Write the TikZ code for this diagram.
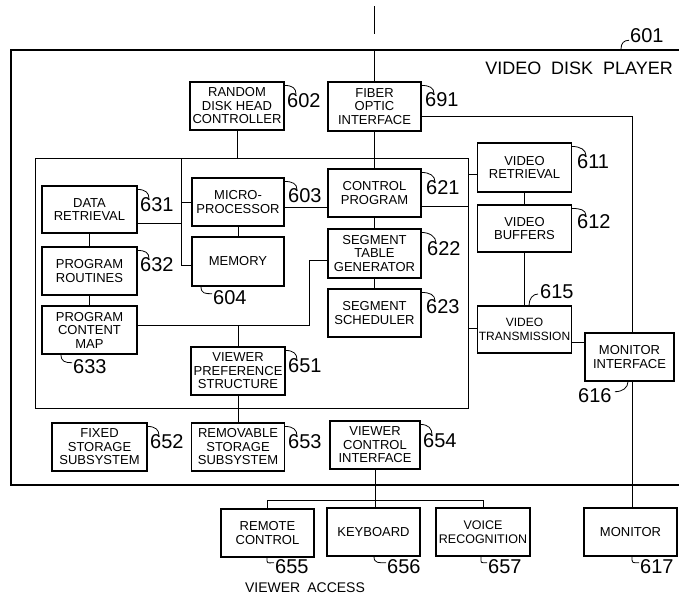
\documentclass[tikz,border=0pt]{standalone}
\usepackage{fontspec}
\setmainfont{Liberation Sans}
\usetikzlibrary{calc}
\newcommand\ldrTR[2]{\draw[ldr] ($(#1.north east)+(0,4)$) .. controls +(8,0) and +(0,-6) .. ($(#2.north west)+(9,1)$);}
\newcommand\ldrBL[3]{\draw[ldr] (#3,0 |- #1.south) .. controls +(0,7) and +(-7,0) .. ($(#2.north west)+(-1,3)$);}
\begin{document}
\begin{tikzpicture}[x=1pt,y=-1pt]
\tikzset{
 bx/.style={draw, line width=1.1pt, align=center, inner sep=0pt, font=\fontsize{13}{13.5}\selectfont},
 lbl/.style={inner sep=0pt, anchor=west, font=\fontsize{20}{20}\selectfont},
 ln/.style={line width=1pt},
 ldr/.style={line width=0.8pt},
 outer/.style={line width=2.2pt}
}
\useasboundingbox (0,0) rectangle (679,598);
% outer box 601
\draw[outer] (681,50) -- (11,50) -- (11,485) -- (681,485);
% boxes
\node[bx, minimum width=94pt, minimum height=48pt] (rdhc) at (237,106) {RANDOM\\DISK HEAD\\CONTROLLER};
\node[bx, minimum width=93pt, minimum height=49pt] (foi) at (374.5,106.5) {FIBER\\OPTIC\\INTERFACE};
\node[bx, minimum width=95pt, minimum height=47pt] (dr) at (89.5,209.5) {DATA\\RETRIEVAL};
\node[bx, minimum width=95pt, minimum height=48pt] (pr) at (89.5,271) {PROGRAM\\ROUTINES};
\node[bx, minimum width=95pt, minimum height=48pt] (pcm) at (89.5,330) {PROGRAM\\CONTENT\\MAP};
\node[bx, minimum width=92pt, minimum height=48pt] (mp) at (238,202) {MICRO-\\PROCESSOR};
\node[bx, minimum width=92pt, minimum height=49pt] (mem) at (238,261.5) {MEMORY};
\node[bx, minimum width=93pt, minimum height=48pt] (cp) at (374.5,193) {CONTROL\\PROGRAM};
\node[bx, minimum width=93pt, minimum height=49pt] (stg) at (374.5,253.5) {SEGMENT\\TABLE\\GENERATOR};
\node[bx, minimum width=93pt, minimum height=48pt] (ss) at (374.5,313) {SEGMENT\\SCHEDULER};
\node[bx, minimum width=94pt, minimum height=49pt] (vr) at (524.5,167.5) {VIDEO\\RETRIEVAL};
\node[bx, minimum width=94pt, minimum height=47pt] (vb) at (524.5,228.5) {VIDEO\\BUFFERS};
\node[bx, minimum width=94pt, minimum height=47pt, font=\fontsize{12}{13.5}\selectfont] (vt) at (524.5,329.5) {VIDEO\\TRANSMISSION};
\node[bx, minimum width=89pt, minimum height=48pt] (mi) at (629.5,357) {MONITOR\\INTERFACE};
\node[bx, minimum width=94pt, minimum height=48pt] (vps) at (238,371) {VIEWER\\PREFERENCE\\STRUCTURE};
\node[bx, minimum width=93pt, minimum height=48pt] (rss) at (238,447) {REMOVABLE\\STORAGE\\SUBSYSTEM};
\node[bx, minimum width=95pt, minimum height=48pt] (fss) at (99.5,447) {FIXED\\STORAGE\\SUBSYSTEM};
\node[bx, minimum width=90pt, minimum height=48pt] (vci) at (375,445) {VIEWER\\CONTROL\\INTERFACE};
\node[bx, minimum width=93pt, minimum height=48pt] (rc) at (267.5,533) {REMOTE\\CONTROL};
\node[bx, minimum width=93pt, minimum height=48pt] (kb) at (373.5,532) {KEYBOARD};
\node[bx, minimum width=94pt, minimum height=48pt, font=\fontsize{12.5}{13.5}\selectfont] (vrc) at (483,532) {VOICE\\RECOGNITION};
\node[bx, minimum width=93pt, minimum height=48pt] (mon) at (630.5,532) {MONITOR};
% texts
\node[font=\fontsize{18}{18}\selectfont, anchor=east, inner sep=0pt] (title) at (673,68) {VIDEO\hspace{0.55em}DISK\hspace{0.55em}PLAYER};
\node[font=\fontsize{14}{14}\selectfont, inner sep=0pt] (va) at (305,588) {VIEWER\hspace{0.5em}ACCESS};
% labels
\node[lbl] (l601) at (630,36) {601};
\node[lbl] (l602) at (287,100.5) {602};
\node[lbl] (l691) at (425,100) {691};
\node[lbl] (l631) at (140,205) {631};
\node[lbl] (l632) at (140,265) {632};
\node[lbl] (l603) at (288,196) {603};
\node[lbl] (l604) at (213,298) {604};
\node[lbl] (l621) at (426,188) {621};
\node[lbl] (l622) at (427,249) {622};
\node[lbl] (l623) at (426,307) {623};
\node[lbl] (l611) at (577,162) {611};
\node[lbl] (l612) at (577,222) {612};
\node[lbl] (l615) at (540,292) {615};
\node[lbl] (l616) at (578,396) {616};
\node[lbl] (l633) at (73,367) {633};
\node[lbl] (l651) at (288,366) {651};
\node[lbl] (l652) at (150,442) {652};
\node[lbl] (l653) at (288,442) {653};
\node[lbl] (l654) at (423,441) {654};
\node[lbl] (l655) at (275,567) {655};
\node[lbl] (l656) at (387,567) {656};
\node[lbl] (l657) at (488,567) {657};
\node[lbl] (l617) at (640,567) {617};
% leaders
\ldrTR{rdhc}{l602}
\ldrTR{foi}{l691}
\ldrTR{dr}{l631}
\ldrTR{pr}{l632}
\ldrTR{mp}{l603}
\ldrTR{cp}{l621}
\ldrTR{stg}{l622}
\ldrTR{ss}{l623}
\ldrTR{vr}{l611}
\ldrTR{vb}{l612}
\ldrTR{vps}{l651}
\ldrTR{fss}{l652}
\ldrTR{rss}{l653}
\ldrTR{vci}{l654}
\ldrBL{mem}{l604}{201}
\ldrBL{pcm}{l633}{61}
\ldrBL{rc}{l655}{267}
\ldrBL{kb}{l656}{374}
\ldrBL{vrc}{l657}{481}
\ldrBL{mon}{l617}{632}
\coordinate (c601) at (621,49);
\draw[ldr] (c601) .. controls +(0,-6) and +(-5,0) .. ($(l601.south west)+(-1,-3)$);
\draw[ldr] (529,0 |- vt.north) .. controls +(0,-7) and +(-5,0) .. ($(l615.west)+(-2,2)$);
\draw[ldr] ($(l616.north east)+(3,3)$) .. controls +(8,0) and +(0,6) .. (628,0 |- mi.south);
% connectors
\coordinate (ft) at (374.5,6);
\coordinate (fb) at (374.5,34);
\draw[ln] (ft) -- (fb);
\draw[ln] (foi.north |- 0,50) -- (foi.north);
\coordinate (iTL) at (35,158);
\coordinate (iBR) at (468,408);
\draw[ln] (iTL) rectangle (iBR);
\draw[ln] (rdhc.south) -- (rdhc.south |- iTL);
\draw[ln] (foi.south) -- (cp.north);
\coordinate (bt) at (181,158);
\coordinate (bb) at (181,265);
\draw[ln] (bt) -- (bb) -- (bb -| mem.west);
\draw[ln] (bt |- mp.west) -- (mp.west);
\draw[ln] (dr.east |- 0,223) -- (bt |- 0,223);
\draw[ln] (dr.south) -- (pr.north);
\draw[ln] (pr.south) -- (pcm.north);
\draw[ln] (mp.south) -- (mem.north);
\draw[ln] (mp.east |- 0,207) -- (cp.west |- 0,207);
\draw[ln] (cp.east |- 0,206) -- (iBR |- 0,206);
\draw[ln] (cp.south) -- (stg.north);
\draw[ln] (stg.south) -- (ss.north);
\coordinate (sj) at (309,260);
\coordinate (pj) at (309,325);
\draw[ln] (stg.west |- sj) -- (sj) -- (pj) -- (pcm.east |- pj);
\draw[ln] (vps.north) -- (vps.north |- pj);
\draw[ln] (vps.south) -- (rss.north);
\draw[ln] (iBR |- 0,174) -- (vr.west |- 0,174);
\draw[ln] (vr.south) -- (vb.north);
\draw[ln] (vb.south) -- (vt.north);
\draw[ln] (iBR |- 0,328) -- (vt.west |- 0,328);
\draw[ln] (vt.east |- 0,342) -- (mi.west |- 0,342);
\coordinate (fr) at (632,116);
\draw[ln] (foi.east |- fr) -- (fr) -- (fr |- mi.north);
\draw[ln] (fr |- mi.south) -- (fr |- mon.north);
\coordinate (vbus) at (372,500);
\draw[ln] (vci.south) -- (vci.south |- kb.north);
\draw[ln] (rc.north) -- (rc.north |- vbus) -- (vrc.north |- vbus) -- (vrc.north);
\end{tikzpicture}
\end{document}
